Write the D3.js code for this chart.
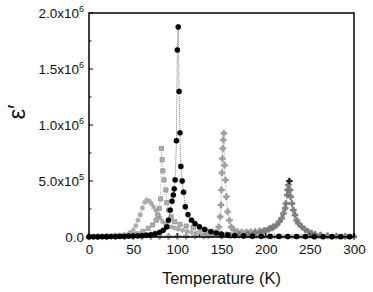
<!DOCTYPE html>
<html>
<head>
<meta charset="utf-8">
<script src="https://cdn.jsdelivr.net/npm/d3@7"></script>
<style>
body { margin: 0; background: #fff; }
text { font-family: Arial, "Liberation Sans", sans-serif; }
</style>
</head>
<body>
<script>
var w = 373;
var h = 292;

// permittivity values in units of 1e6
var circT = [0,5,10,15,20,25,30,35,40,45,50,55,60,65,70,75,80,84,88,90,92,94,95.5,96.5,97.5,99,100,101,102,103,104,105.5,107,109,112,116,120,125,131,138,144,150,157,165,175,185,195,205,215,225,235,245,255,265,275,285,295];
var circV = [0.002,0.002,0.002,0.003,0.003,0.004,0.004,0.005,0.006,0.007,0.008,0.010,0.012,0.016,0.022,0.030,0.042,0.060,0.090,0.15,0.24,0.32,0.375,0.43,0.51,0.86,1.67,1.875,1.30,0.93,0.63,0.50,0.40,0.27,0.20,0.15,0.12,0.092,0.068,0.048,0.035,0.025,0.018,0.012,0.009,0.007,0.006,0.005,0.005,0.004,0.004,0.004,0.003,0.003,0.003,0.003,0.003];

var sqT = [0,5,10,15,20,25,30,35,40,45,50,55,61,67,72,76,78,79.6,81,82,82.8,83.6,85,87,88,90,93,97,103,110,118,126,133,141,148,156,165,175,185,195,205,215,225,235,245,255,265,275,285,295];
var sqV = [0.003,0.003,0.004,0.004,0.005,0.006,0.007,0.008,0.010,0.013,0.018,0.028,0.05,0.078,0.107,0.15,0.196,0.256,0.34,0.79,0.69,0.59,0.51,0.42,0.306,0.24,0.18,0.137,0.113,0.098,0.087,0.071,0.054,0.042,0.032,0.025,0.018,0.013,0.010,0.008,0.007,0.006,0.005,0.005,0.004,0.004,0.004,0.003,0.003,0.003];

var starT = [0,5,10,15,20,25,30,35,40,46,50,53,55.5,58,60.5,63,65.5,68,70.5,73,75.5,78,80.5,83,86,89,93,97,101,106,111,116,121,126,132,138,145,152,160,170,180,190,200,210,220,230,240,250,260,270,280,290,300];
var starV = [0.003,0.004,0.005,0.006,0.008,0.010,0.013,0.017,0.022,0.04,0.06,0.10,0.15,0.20,0.26,0.31,0.33,0.32,0.30,0.27,0.24,0.20,0.17,0.14,0.12,0.105,0.09,0.08,0.07,0.06,0.05,0.042,0.036,0.030,0.025,0.020,0.016,0.013,0.010,0.008,0.007,0.006,0.006,0.005,0.005,0.004,0.004,0.004,0.003,0.003,0.003,0.003,0.003];

var plusT = [0,10,20,30,40,50,60,70,80,90,100,110,120,130,135,140,144,147,148.5,149.5,150,150.5,151,151.5,152,152.7,153.5,154.5,155.5,157,159,161,164,168,173,178,183,188,193,198,203,208];
var plusV = [0.002,0.002,0.002,0.003,0.003,0.003,0.004,0.004,0.005,0.005,0.006,0.007,0.008,0.010,0.012,0.020,0.040,0.09,0.18,0.286,0.42,0.574,0.70,0.79,0.866,0.926,0.64,0.51,0.36,0.226,0.15,0.09,0.062,0.05,0.045,0.045,0.047,0.05,0.055,0.06,0.068,0.08];

var crossT = [150,160,170,180,188,195,200,205,208.7,212.5,215.5,218.2,220,222,223,224.5,225,225.7,226.8,227.6,228.4,229.8,231.3,233.2,235.1,236.9,240.8,244.5,248,252,256,262,270,280,290,300];
var crossV = [0.010,0.015,0.020,0.028,0.035,0.045,0.055,0.078,0.092,0.107,0.137,0.167,0.21,0.256,0.30,0.375,0.42,0.464,0.50,0.42,0.36,0.30,0.24,0.196,0.15,0.122,0.092,0.068,0.05,0.035,0.025,0.018,0.012,0.008,0.006,0.005];

var yTicks = [0, 0.5, 1.0, 1.5, 2.0];
var yTickMain = ['0.0', '5.0x10', '1.0x10', '1.5x10', '2.0x10'];
var yTickExp = ['', '5', '6', '6', '6'];
var xTicks = [0, 50, 100, 150, 200, 250, 300];

var margin = {left: 89, right: 19, top: 13, bottom: 55};

var svg = d3.select('body')
            .append('svg')
            .attr('width', w)
            .attr('height', h);

var x = d3.scaleLinear()
          .domain([0, 300])
          .range([margin.left, w - margin.right]);

var y = d3.scaleLinear()
          .domain([0, 2.0])
          .range([h - margin.bottom, margin.top]);

// asterisk marker
var asterisk = {
    draw: function(ctx, size) {
        var r = Math.sqrt(size) * 0.6;
        for (var i = 0; i < 4; i++) {
            var a = i * Math.PI / 4;
            ctx.moveTo(-r * Math.cos(a), -r * Math.sin(a));
            ctx.lineTo(r * Math.cos(a), r * Math.sin(a));
        }
    }
};

var series = [
    {t: starT, v: starV, type: asterisk, size: 20, fill: 'none', stroke: '#a8a8a8', line: '#b0b0b0', sw: 1.1},
    {t: sqT, v: sqV, type: d3.symbolSquare, size: 17, fill: '#b0b0b0', stroke: '#8a8a8a', line: '#aaa', sw: 0.8},
    {t: plusT, v: plusV, type: d3.symbolCross, size: 20, fill: '#a0a0a0', stroke: '#909090', line: '#999', sw: 0.5},
    {t: crossT, v: crossV, type: d3.symbolCross, size: 20, fill: '#808080', stroke: '#707070', line: '#888', sw: 0.5},
    {t: circT, v: circV, type: d3.symbolCircle, size: 22, fill: '#000', stroke: '#000', line: '#555', sw: 0.3}
];

var line = d3.line()
             .x(function(d) { return x(d[0]); })
             .y(function(d) { return y(d[1]); });

var plot = svg.append('g');

series.forEach(function(s) {
    var pts = s.t.map(function(t, i) { return [t, s.v[i]]; });
    plot.append('path')
        .datum(pts)
        .attr('fill', 'none')
        .attr('stroke', s.line)
        .attr('stroke-width', 0.8)
        .attr('stroke-dasharray', '1,1')
        .attr('d', line);
    plot.selectAll(null)
        .data(pts)
        .enter()
        .append('path')
        .attr('transform', function(d) { return 'translate(' + x(d[0]) + ',' + y(d[1]) + ')'; })
        .attr('d', d3.symbol().type(s.type).size(s.size))
        .attr('fill', s.fill)
        .attr('stroke', s.stroke)
        .attr('stroke-width', s.sw);
});

// top marker of the 227 K peak looks darker
plot.append('path')
    .attr('transform', 'translate(' + x(226.8) + ',' + y(0.50) + ')')
    .attr('d', d3.symbol().type(d3.symbolCross).size(20))
    .attr('fill', '#222');

// axes, ticks inside
var xAxis = d3.axisBottom(x).tickValues(xTicks).tickSize(0).tickPadding(7).tickFormat(d3.format('d'));
var xAxisG = svg.append('g')
   .attr('transform', 'translate(0,' + (h - margin.bottom) + ')')
   .call(xAxis);
xAxisG.select('.domain').remove();
xAxisG.selectAll('text').attr('font-size', 13.5).attr('fill', '#111');

var xMinor = d3.range(0, 301, 25);
svg.append('g').selectAll('line')
   .data(xMinor)
   .enter()
   .append('line')
   .attr('x1', function(d) { return x(d); })
   .attr('x2', function(d) { return x(d); })
   .attr('y1', y(0))
   .attr('y2', function(d) { return y(0) - (d % 50 === 0 ? 4 : 2.5); })
   .attr('stroke', '#000')
   .attr('stroke-width', 1);

var yMinor = d3.range(0, 2.01, 0.25);
svg.append('g').selectAll('line')
   .data(yMinor)
   .enter()
   .append('line')
   .attr('x1', x(0))
   .attr('x2', function(d, i) { return x(0) + (i % 2 === 0 ? 4 : 2.5); })
   .attr('y1', function(d) { return y(d); })
   .attr('y2', function(d) { return y(d); })
   .attr('stroke', '#000')
   .attr('stroke-width', 1);

var yLab = svg.append('g').selectAll('text')
   .data(yTicks)
   .enter()
   .append('text')
   .attr('x', margin.left - 5)
   .attr('y', function(d) { return y(d) + 5; })
   .attr('text-anchor', 'end')
   .attr('font-size', 13.5)
   .attr('fill', '#111');
yLab.append('tspan').text(function(d, i) { return yTickMain[i]; });
yLab.append('tspan')
    .attr('dy', -6)
    .attr('font-size', 9)
    .text(function(d, i) { return yTickExp[i]; });

// frame
svg.append('rect')
   .attr('x', margin.left)
   .attr('y', margin.top)
   .attr('width', w - margin.left - margin.right)
   .attr('height', h - margin.top - margin.bottom)
   .attr('fill', 'none')
   .attr('stroke', '#000')
   .attr('stroke-width', 1.5);

svg.append('text')
   .attr('x', (x(0) + x(300)) / 2)
   .attr('y', 284)
   .attr('text-anchor', 'middle')
   .attr('font-size', 16.5)
   .attr('fill', '#111')
   .text('Temperature (K)');

svg.append('text')
   .attr('transform', 'translate(25,112) rotate(-90)')
   .attr('text-anchor', 'middle')
   .attr('font-size', 24)
   .attr('fill', '#111')
   .text('\u03b5\u2032');
</script>
</body>
</html>
